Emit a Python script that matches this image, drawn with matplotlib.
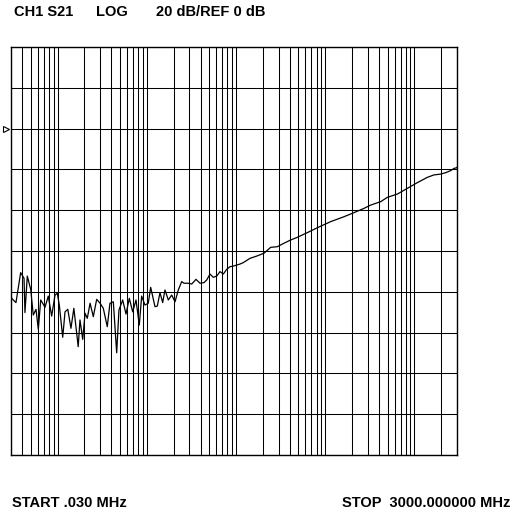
import numpy as np
import matplotlib
matplotlib.use("Agg")
import matplotlib.pyplot as plt
from matplotlib.ticker import LogLocator, NullFormatter

# S21 trace: frequency (MHz) and level (dB)
freq_mhz = [0.030, 0.0305, 0.0341, 0.0385, 0.0420, 0.0430, 0.0457, 0.0499, 0.0533,
            0.0572, 0.0607, 0.0646, 0.0722, 0.0785, 0.0857, 0.0934, 0.0991, 0.1044,
            0.114, 0.121, 0.130, 0.141, 0.152, 0.170, 0.178, 0.191, 0.203, 0.215,
            0.231, 0.251, 0.274, 0.299, 0.325, 0.360, 0.386, 0.421, 0.459, 0.487,
            0.536, 0.584, 0.636, 0.694, 0.756, 0.823, 0.875, 0.953, 1.038, 1.104,
            1.234, 1.310, 1.404, 1.505, 1.597, 1.740, 1.900, 2.070, 2.253, 2.460,
            2.610, 2.916, 3.185, 3.558, 3.945, 4.374, 4.69, 5.11, 5.56, 6.07, 6.61,
            7.20, 7.85, 8.55, 9.32, 10.16, 11.07, 12.05, 14.33, 17.03, 20.57, 24.45,
            28.98, 34.44, 40.98, 48.63, 62.97, 81.5, 115.1, 162.2, 210, 271.8, 323,
            419, 497, 643, 832, 1077, 1394, 1656, 1968, 2240, 2547, 2775, 2979, 3000]
s21_db = [-82.0, -83.2, -85.3, -70.6, -73.4, -90.2, -72.3, -78.8, -91.4,
          -88.6, -98.4, -84.0, -87.6, -82.1, -91.9, -81.6, -80.7, -86.5,
          -102.3, -89.8, -88.6, -97.9, -88.1, -106.9, -93.8, -103.3, -90.5, -93.0,
          -85.6, -92.2, -83.7, -85.6, -88.1, -97.1, -85.6, -84.9, -109.9, -88.9,
          -84.0, -90.9, -83.2, -89.8, -84.0, -96.3, -82.1, -86.5, -85.6, -77.8,
          -87.3, -87.0, -80.4, -85.3, -79.1, -84.0, -81.6, -84.9, -79.1, -75.0,
          -75.8, -75.8, -76.2, -73.9, -75.8, -75.5, -74.2, -71.3, -72.9, -72.3, -70.1,
          -71.3, -69.0, -67.7, -67.4, -66.9, -66.4, -65.7, -63.6, -62.5, -61.1, -58.2,
          -57.9, -56.2, -54.6, -53.3, -51.0, -48.6, -45.6, -43.2, -41.2, -39.1, -37.5,
          -35.8, -33.7, -32.1, -29.3, -26.5, -23.9, -22.7, -22.3, -21.6, -20.6, -19.5, -19.2, -19.0]

start_mhz = 0.03
stop_mhz = 3000.0
ref_db = 0.0
db_per_div = 20
n_div = 10
ref_div_from_top = 2

header = ["CH1 S21", "LOG", "20 dB/REF 0 dB"]
start_label = "START .030 MHz"
stop_label = "STOP  3000.000000 MHz"

plt.rcParams["font.family"] = ["Liberation Sans", "DejaVu Sans"]

fig = plt.figure(figsize=(5.28, 5.26), dpi=100)
ax = fig.add_axes([11 / 528, 1 - 455 / 526, 446 / 528, 408 / 526])

top_db = ref_db + ref_div_from_top * db_per_div
bottom_db = top_db - n_div * db_per_div

ax.plot(freq_mhz, s21_db, color="black", lw=0.9)
ax.set_xscale("log")
ax.set_xlim(start_mhz, stop_mhz)
ax.set_ylim(bottom_db, top_db)
ax.set_yticks(np.arange(bottom_db, top_db + 1, db_per_div))
ax.xaxis.set_major_locator(LogLocator(base=10, subs=np.arange(1, 10)))
ax.xaxis.set_minor_locator(LogLocator(base=10, subs=[]))
ax.xaxis.set_major_formatter(NullFormatter())
ax.yaxis.set_major_formatter(NullFormatter())
ax.tick_params(length=0)
ax.grid(True, color="black", lw=0.75)
for s in ax.spines.values():
    s.set_linewidth(1.0)

# reference level marker on the left edge
ax.plot([-0.012], [ref_db], marker=">", ms=4, mfc="white", mec="black", mew=0.8,
        transform=ax.get_yaxis_transform(), clip_on=False)

fig.text(14 / 528, 1 - 12 / 526, header[0], fontsize=10.5, fontweight="bold", va="center")
fig.text(96 / 528, 1 - 12 / 526, header[1], fontsize=10.5, fontweight="bold", va="center")
fig.text(156 / 528, 1 - 12 / 526, header[2], fontsize=10.5, fontweight="bold", va="center")
fig.text(12 / 528, 1 - 503 / 526, start_label, fontsize=10.5, fontweight="bold", va="center")
fig.text(510 / 528, 1 - 503 / 526, stop_label, fontsize=10.5, fontweight="bold",
         va="center", ha="right")

fig.savefig("out.png", dpi=100)
